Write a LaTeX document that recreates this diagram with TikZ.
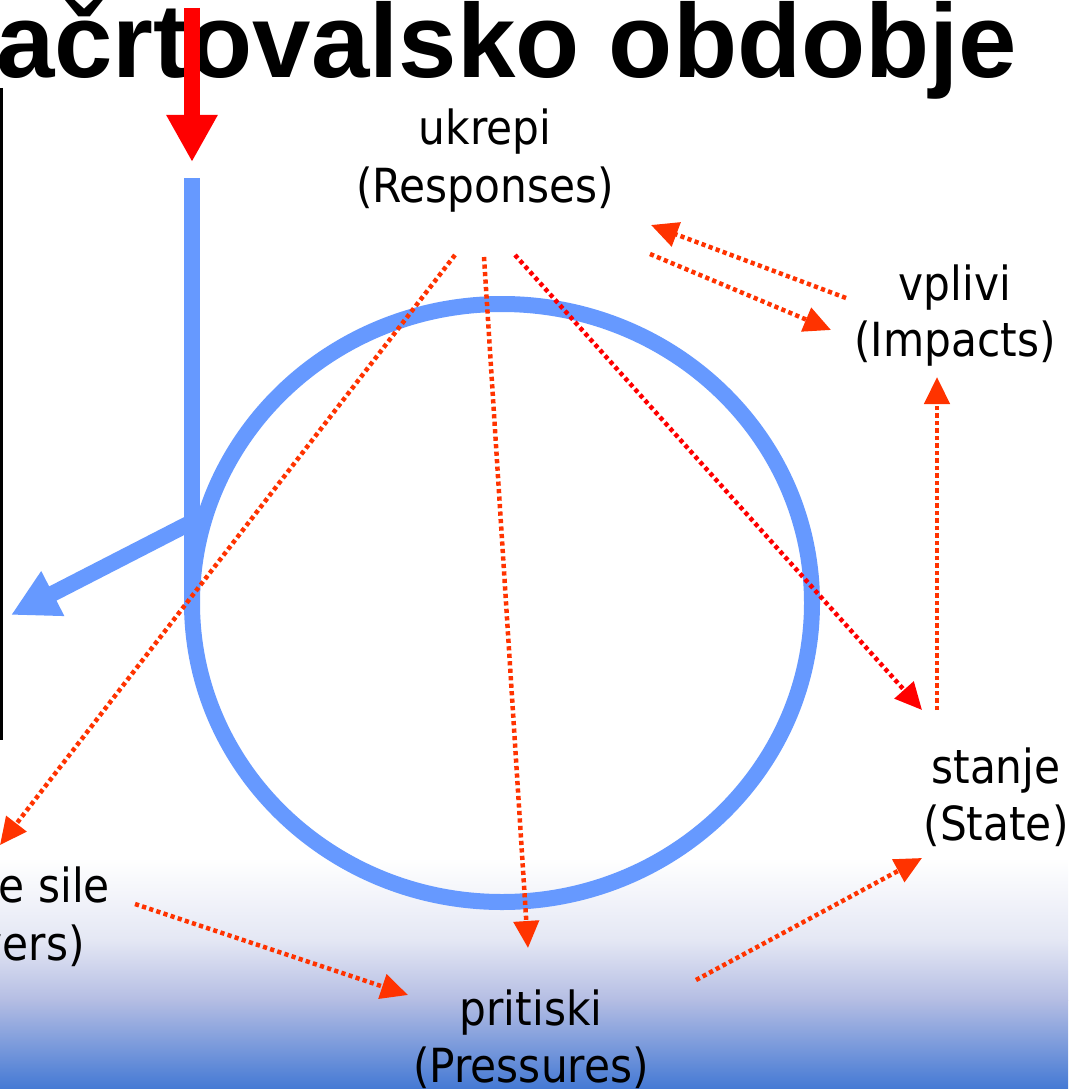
\documentclass[tikz,border=0pt]{standalone}
\usepackage{fontspec}
\usetikzlibrary{arrows.meta}
\newfontfamily\lblfont{DejaVu Sans Condensed}
\newfontfamily\titlefont{Liberation Sans}
\definecolor{cblue}{HTML}{6699FF}
\definecolor{arrowred}{HTML}{FF3300}
\definecolor{pureRed}{HTML}{FF0000}
\definecolor{gradpale}{HTML}{E4E7F4}
\definecolor{gradmid}{HTML}{B4BDE3}
\definecolor{gradblue}{HTML}{4479D4}
\begin{document}
\begin{tikzpicture}[x=1pt,y=-1pt,
  lbl/.style={font=\lblfont\fontsize{47}{47}\selectfont, inner sep=0pt, anchor=base, text=black},
  dotarrow/.style={draw=arrowred, line width=4.5pt, dash pattern=on 4.2pt off 3.3pt, -{Triangle[length=27pt,width=25pt,fill=arrowred]}},
  bluebar/.style={draw=cblue, line width=16pt},
]
\useasboundingbox (0,0) rectangle (1068,1089);
\clip (0,0) rectangle (1068,1089);
\fill[white] (0,0) rectangle (1068,1089);
\shade[top color=white, bottom color=gradpale] (0,858) rectangle (1068,940.5);
\shade[top color=gradpale, bottom color=gradmid] (0,940) rectangle (1068,1000.5);
\shade[top color=gradmid, bottom color=gradblue] (0,1000) rectangle (1068,1089);

% left black rule
\coordinate (ltop) at (1.5,88);
\coordinate (lbot) at (1.5,740);
\draw[black, line width=2.5pt] (ltop) -- (lbot);

% cycle ellipse
\draw[cblue, line width=16pt] (502,603) ellipse [x radius=310, y radius=299];

% title
\node[font=\titlefont\bfseries\fontsize{105}{105}\selectfont, anchor=base west, inner sep=0pt] (title) at (-4,78) {ačrtovalsko obdobje};

% blue bar and arrow
\coordinate (btop) at (192,178);
\coordinate (bbot) at (192,600);
\draw[bluebar] (btop) -- (bbot);
\coordinate (bstart) at (192,522);
\coordinate (btip) at (11,615);
\draw[bluebar, -{Triangle[length=47pt,width=47pt]}] (bstart) -- (btip);

% red arrow
\coordinate (rtop) at (192,8);
\coordinate (rtip) at (192,162);
\draw[pureRed, line width=16pt, -{Triangle[length=47pt,width=48pt]}] (rtop) -- (rtip);

% labels
\node[lbl] (resp1) at (485,145) {ukrepi};
\node[lbl] (resp2) at (485,202) {(Responses)};
\node[lbl] (imp1) at (955,300) {vplivi};
\node[lbl] (imp2) at (955,356) {(Impacts)};
\node[lbl] (st1) at (996,783) {stanje};
\node[lbl] (st2) at (996,840) {(State)};
\node[lbl] (pr1) at (531,1025) {pritiski};
\node[lbl] (pr2) at (531,1082) {(Pressures)};
\node[lbl, anchor=base east] (dr1) at (110,902) {e sile};
\node[lbl, anchor=base east] (dr2) at (85,960) {vers)};

% connector endpoints
\coordinate (r1) at (455,255);
\coordinate (r2) at (484,257);
\coordinate (r3) at (515,255);
\coordinate (drtip) at (0,845);
\coordinate (prtip) at (528,948);
\coordinate (sttip) at (922,710);
\coordinate (ia) at (846,298);
\coordinate (iatip) at (651,225);
\coordinate (rb) at (650,254);
\coordinate (rbtip) at (831,330);
\coordinate (sa) at (937,710);
\coordinate (satip) at (937,377);
\coordinate (da) at (135,904);
\coordinate (datip) at (408,995);
\coordinate (pa) at (696,980);
\coordinate (patip) at (922,858);

\draw[dotarrow] (r1) -- (drtip);
\draw[dotarrow] (r2) -- (prtip);
\draw[dotarrow, draw=pureRed, -{Triangle[length=27pt,width=25pt,fill=pureRed]}] (r3) -- (sttip);
\draw[dotarrow] (ia) -- (iatip);
\draw[dotarrow] (rb) -- (rbtip);
\draw[dotarrow] (sa) -- (satip);
\draw[dotarrow] (da) -- (datip);
\draw[dotarrow] (pa) -- (patip);
\end{tikzpicture}
\end{document}
